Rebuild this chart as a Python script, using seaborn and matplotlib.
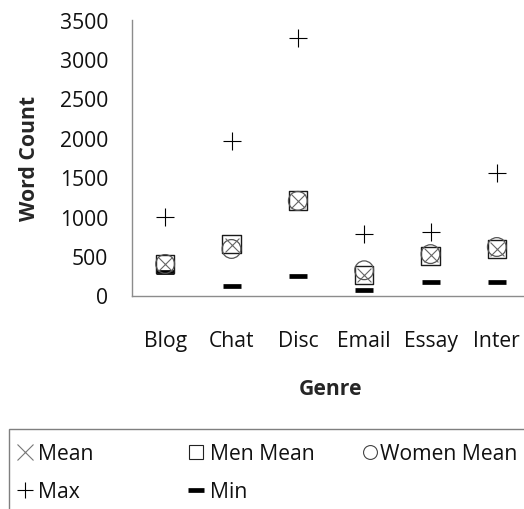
import matplotlib
matplotlib.use("Agg")
import matplotlib.pyplot as plt
from matplotlib.lines import Line2D
from matplotlib.patches import Rectangle
import seaborn as sns
import pandas as pd

# values
genres = ["Blog", "Chat", "Disc", "Email", "Essay", "Inter"]
mean_all = [395, 635, 1200, 265, 510, 595]
men_mean = [395, 650, 1205, 255, 505, 590]
women_mean = [400, 590, 1200, 320, 525, 615]
max_count = [990, 1965, 3260, 780, 805, 1555]
min_count = [295, 115, 250, 75, 175, 175]

df = pd.DataFrame({
    "Genre": genres,
    "Mean": mean_all,
    "Men Mean": men_mean,
    "Women Mean": women_mean,
    "Max": max_count,
    "Min": min_count,
})

sns.set_theme(style="white")
plt.rcParams["font.family"] = ["Open Sans", "DejaVu Sans"]
FS = 15.2
W, H = 524, 510

fig = plt.figure(figsize=(W / 100, H / 100), dpi=100)
ax = fig.add_axes([132 / W, (H - 296.5) / H, (530 - 132) / W, (296.5 - 20.5) / H])

# Max as thin crosses, Min as thick dashes
sns.scatterplot(data=df, x="Genre", y="Max", marker="+", s=13 ** 2,
                color="black", linewidth=0.8, ax=ax, zorder=3)
sns.scatterplot(data=df, x="Genre", y="Min", marker="_", s=13 ** 2,
                color="black", linewidth=3.4, ax=ax, zorder=3)
sns.scatterplot(data=df, x="Genre", y="Men Mean", marker="s", s=13 ** 2,
                facecolor="none", edgecolor="#1a1a1a", linewidth=1.0, ax=ax, zorder=4)
sns.scatterplot(data=df, x="Genre", y="Women Mean", marker="o", s=13.5 ** 2,
                facecolor="none", edgecolor="#555555", linewidth=0.9, ax=ax, zorder=4)
sns.scatterplot(data=df, x="Genre", y="Mean", marker="x", s=10 ** 2,
                color="#666666", linewidth=0.8, ax=ax, zorder=5)

ax.set_xlim(-0.5, len(genres) - 0.5)
ax.set_ylim(0, 3500)
ax.set_yticks(range(0, 3501, 500))
ax.tick_params(axis="y", length=0, pad=17, labelsize=FS, labelcolor="#111111")
ax.tick_params(axis="x", length=0, pad=25, labelsize=FS, labelcolor="#111111")
ax.set_xlabel("Genre", fontsize=FS, fontweight="bold", labelpad=19)
ax.set_ylabel("Word Count", fontsize=FS, fontweight="bold", labelpad=14)
for side in ["top", "right"]:
    ax.spines[side].set_visible(False)
for side in ["left", "bottom"]:
    ax.spines[side].set_color("#8c8c8c")
    ax.spines[side].set_linewidth(1.0)
ax.grid(False)

# legend: framed box running off the figure, entries in three columns
fig.add_artist(Rectangle((9 / W, -0.05), (530 - 9) / W, (H - 430) / H + 0.05,
                         transform=fig.transFigure, fill=False,
                         edgecolor="#7f7f7f", linewidth=1.0))

def mk(marker, size, color, mew, face="none"):
    return Line2D([], [], linestyle="none", marker=marker, markersize=size,
                  markeredgecolor=color, markerfacecolor=face, markeredgewidth=mew)

columns = [
    (16.3, [mk("x", 11, "#777777", 0.8), mk("+", 12, "black", 0.8)], ["Mean", "Max"], 0.25),
    (187.8, [mk("s", 10, "#222222", 0.8), mk("_", 11, "black", 3.4)], ["Men Mean", "Min"], 0.25),
    (361.8, [mk("o", 10, "#444444", 0.8)], ["Women Mean"], 0.08),
]
for x0, handles, labels, pad in columns:
    fig.legend(handles, labels, loc="upper left", bbox_to_anchor=(x0 / W, (H - 444) / H),
               frameon=False, borderpad=0, borderaxespad=0, handlelength=0.8,
               handletextpad=pad, labelspacing=0.82, fontsize=FS, labelcolor="#111111")

fig.savefig("out.png", dpi=100)
